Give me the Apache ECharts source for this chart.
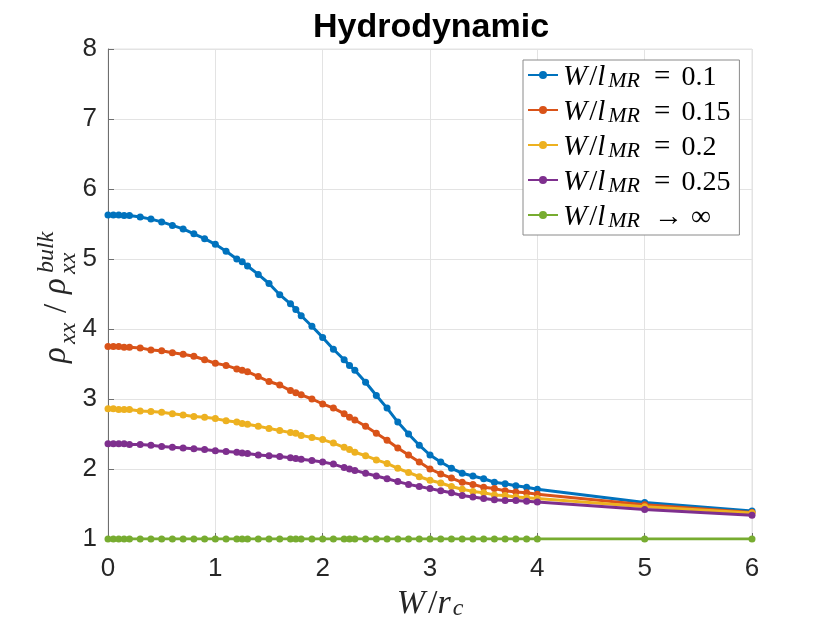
<!DOCTYPE html>
<html>
<head>
<meta charset="utf-8">
<script src="https://cdn.jsdelivr.net/npm/echarts@6/dist/echarts.min.js"></script>
<style>
html,body{margin:0;padding:0;background:#fff;}
#c{width:830px;height:623px;}
</style>
</head>
<body>
<div id="c"></div>
<script>
var xValues = [0,0.05,0.1,0.15,0.2,0.3,0.4,0.5,0.6,0.7,0.8,0.9,1.0,1.1,1.2,1.25,1.3,1.4,1.5,1.6,1.7,1.75,1.8,1.9,2.0,2.1,2.2,2.25,2.3,2.4,2.5,2.6,2.7,2.8,2.9,3.0,3.1,3.2,3.3,3.4,3.5,3.6,3.7,3.8,3.9,4.0,5,6];

var rho010 = [5.63,5.63,5.63,5.62,5.62,5.60,5.57,5.53,5.48,5.43,5.36,5.29,5.21,5.11,5.00,4.96,4.90,4.78,4.65,4.49,4.36,4.28,4.19,4.04,3.88,3.71,3.56,3.48,3.41,3.24,3.05,2.87,2.67,2.50,2.34,2.20,2.10,2.01,1.94,1.90,1.86,1.81,1.79,1.76,1.74,1.71,1.52,1.40];
var rho015 = [3.75,3.75,3.75,3.74,3.74,3.73,3.70,3.69,3.66,3.64,3.61,3.56,3.51,3.48,3.43,3.41,3.39,3.32,3.25,3.20,3.12,3.09,3.06,3.00,2.93,2.87,2.79,2.74,2.70,2.61,2.51,2.41,2.30,2.20,2.10,2.00,1.93,1.87,1.81,1.78,1.74,1.72,1.69,1.67,1.66,1.64,1.49,1.38];
var rho020 = [2.86,2.86,2.85,2.85,2.85,2.83,2.82,2.81,2.79,2.77,2.75,2.74,2.72,2.69,2.67,2.65,2.64,2.61,2.58,2.55,2.52,2.51,2.48,2.45,2.42,2.37,2.31,2.28,2.24,2.19,2.13,2.08,2.01,1.95,1.89,1.84,1.80,1.75,1.71,1.68,1.66,1.63,1.62,1.60,1.59,1.58,1.46,1.37];
var rho025 = [2.36,2.36,2.36,2.36,2.35,2.35,2.34,2.32,2.31,2.30,2.29,2.28,2.26,2.25,2.24,2.23,2.22,2.20,2.19,2.18,2.16,2.15,2.14,2.12,2.10,2.07,2.02,2.00,1.98,1.94,1.90,1.86,1.82,1.78,1.75,1.72,1.69,1.66,1.62,1.60,1.58,1.56,1.55,1.55,1.54,1.53,1.42,1.34];
var rhoInf = [1,1,1,1,1,1,1,1,1,1,1,1,1,1,1,1,1,1,1,1,1,1,1,1,1,1,1,1,1,1,1,1,1,1,1,1,1,1,1,1,1,1,1,1,1,1,1,1];

var seriesValues = ['0.1','0.15','0.2','0.25','\u221e'];
var seriesData = [rho010, rho015, rho020, rho025, rhoInf];
var seriesColors = ['#0072BD','#D95319','#EDB120','#7E2F8E','#77AC30'];
var xTicks = [0,1,2,3,4,5,6];
var yTicks = [1,2,3,4,5,6,7,8];

var chart = echarts.init(document.getElementById('c'), null, {renderer:'canvas'});

var serif = 'Liberation Serif';
var series = seriesData.map(function(arr, k){
  return {
    name: 'W/l_MR ' + seriesValues[k],
    type: 'line',
    data: xValues.map(function(x,i){ return [x, arr[i]]; }),
    symbol: 'circle',
    symbolSize: 7,
    showSymbol: true,
    lineStyle: {width: 3, color: seriesColors[k]},
    itemStyle: {color: seriesColors[k]},
    emphasis: {disabled: true},
    z: 2 + k
  };
});

var option = {
  animation: false,
  backgroundColor: '#fff',
  title: {
    text: 'Hydrodynamic',
    left: 426,
    top: 6,
    textAlign: 'center',
    textStyle: {fontFamily: 'Liberation Sans', fontWeight: 'bold', fontSize: 34, color: '#000'}
  },
  grid: {left: 108, right: 78, top: 49, bottom: 84, show: true, borderColor: '#e3e3e3', borderWidth: 1, backgroundColor: 'transparent', outerBoundsMode: 'none', containLabel: false},
  legend: {
    orient: 'vertical',
    left: 523,
    top: 60,
    itemWidth: 30,
    itemHeight: 10,
    itemGap: 6,
    padding: [3, 9, 3, 4],
    backgroundColor: '#fff',
    borderColor: '#8a8a8a',
    borderWidth: 1,
    borderRadius: 0,
    data: series.map(function(s){ return s.name; }),
    formatter: function(name){
      var v = name.split(' ')[1];
      if (v === '\u221e') return '{w|W}{n|/}{l|l}{s|MR}{a|\u2192}{d|\u221e}';
      return '{w|W}{n|/}{l|l}{s|MR}{e|=}{d|' + v + '}';
    },
    textStyle: {
      padding: [0,0,0,0],
      rich: {
        w: {fontFamily: serif, fontStyle: 'italic', fontSize: 29, lineHeight: 34, verticalAlign: 'bottom', color: '#000', padding: [0,2,0,0]},
        l: {fontFamily: serif, fontStyle: 'italic', fontSize: 29, lineHeight: 34, verticalAlign: 'bottom', color: '#000', padding: [0,2,0,0]},
        n: {fontFamily: serif, fontSize: 29, lineHeight: 34, verticalAlign: 'bottom', color: '#000'},
        d: {fontFamily: serif, fontSize: 28, lineHeight: 34, verticalAlign: 'bottom', color: '#000'},
        e: {fontFamily: serif, fontSize: 29, lineHeight: 34, verticalAlign: 'bottom', color: '#000', padding: [0,11,0,9]},
        a: {fontFamily: serif, fontSize: 29, lineHeight: 34, verticalAlign: 'bottom', color: '#000', padding: [0,8,0,9]},
        s: {fontFamily: serif, fontStyle: 'italic', fontSize: 22, lineHeight: 18, verticalAlign: 'bottom', color: '#000', padding: [0,5,0,1]}
      }
    }
  },
  xAxis: {
    type: 'value',
    min: 0, max: 6, interval: 1,
    name: '{w|W}{n|/}{i|r}{s|c}',
    nameLocation: 'middle',
    nameGap: 42,
    nameTextStyle: {
      rich: {
        w: {fontFamily: serif, fontStyle: 'italic', fontSize: 34, lineHeight: 38, verticalAlign: 'bottom', color: '#262626', padding: [0,3,0,0]},
        i: {fontFamily: serif, fontStyle: 'italic', fontSize: 34, lineHeight: 38, verticalAlign: 'bottom', color: '#262626'},
        n: {fontFamily: serif, fontSize: 34, lineHeight: 38, verticalAlign: 'bottom', color: '#262626'},
        s: {fontFamily: serif, fontStyle: 'italic', fontSize: 24, lineHeight: 24, verticalAlign: 'bottom', color: '#262626', padding: [0,0,0,2]}
      }
    },
    axisLine: {show: true, onZero: false, lineStyle: {color: '#6e6e6e', width: 1}},
    axisTick: {show: true, inside: true, length: 6, lineStyle: {color: '#6e6e6e'}},
    axisLabel: {fontFamily: 'Liberation Sans', fontSize: 26, color: '#262626', margin: 17,
      formatter: function(v){ return xTicks.indexOf(v) >= 0 ? String(v) : ''; }},
    splitLine: {show: true, lineStyle: {color: '#e3e3e3', width: 1}}
  },
  yAxis: {
    type: 'value',
    min: 1, max: 8, interval: 1,
    axisLine: {show: true, onZero: false, lineStyle: {color: '#6e6e6e', width: 1}},
    axisTick: {show: true, inside: true, length: 6, lineStyle: {color: '#6e6e6e'}},
    axisLabel: {fontFamily: 'Liberation Sans', fontSize: 26, color: '#262626', margin: 11,
      formatter: function(v){ return yTicks.indexOf(v) >= 0 ? String(v) : ''; }},
    splitLine: {show: true, lineStyle: {color: '#e3e3e3', width: 1}}
  },
  graphic: [{
    type: 'group',
    x: 73, y: 363,
    rotation: Math.PI / 2,
    children: [
      {type: 'text', x: 0, y: 0, style: {text: '\u03c1', font: 'italic 33px "Liberation Serif"', fill: '#262626', verticalAlign: 'bottom'}},
      {type: 'text', x: 19, y: 8, style: {text: 'xx', font: 'italic 24px "Liberation Serif"', fill: '#262626', verticalAlign: 'bottom'}},
      {type: 'text', x: 50, y: 1, style: {text: '/', font: '33px "Liberation Serif"', fill: '#262626', verticalAlign: 'bottom'}},
      {type: 'text', x: 69, y: 0, style: {text: '\u03c1', font: 'italic 33px "Liberation Serif"', fill: '#262626', verticalAlign: 'bottom'}},
      {type: 'text', x: 89, y: 8, style: {text: 'xx', font: 'italic 24px "Liberation Serif"', fill: '#262626', verticalAlign: 'bottom'}},
      {type: 'text', x: 90, y: -14, style: {text: 'bulk', font: 'italic 24px "Liberation Serif"', fill: '#262626', verticalAlign: 'bottom'}}
    ]
  }],
  series: series
};
chart.setOption(option);
</script>
</body>
</html>
